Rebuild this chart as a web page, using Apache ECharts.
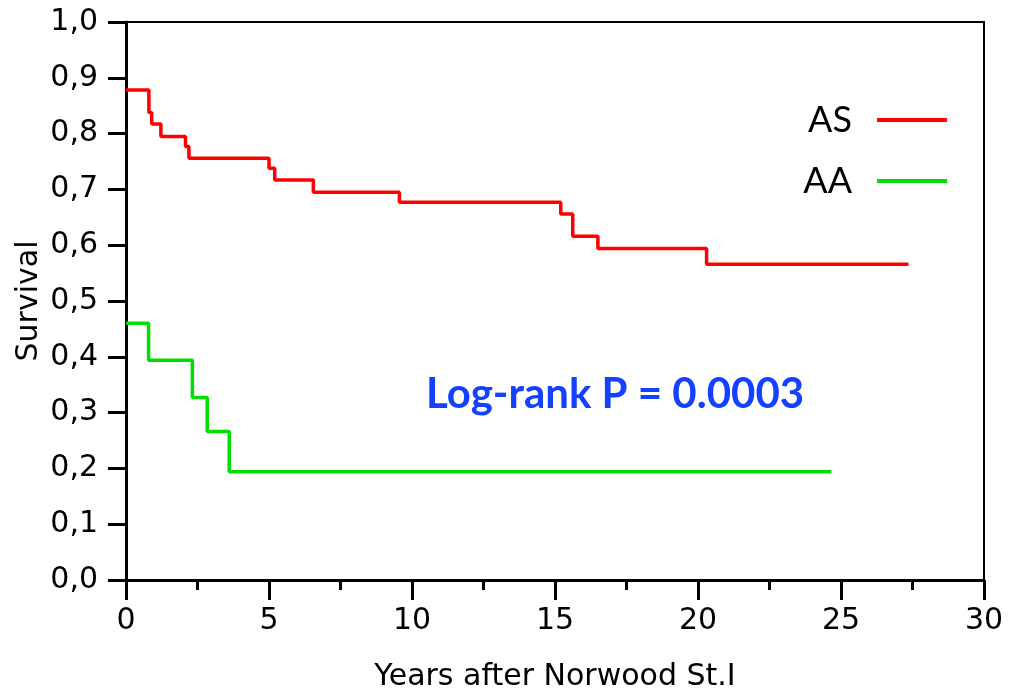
<!DOCTYPE html>
<html>
<head>
<meta charset="utf-8">
<script src="https://cdn.jsdelivr.net/npm/echarts@6/dist/echarts.min.js"></script>
<style>
  html, body { margin: 0; padding: 0; background: #fff; }
  #chart { width: 1009px; height: 690px; }
</style>
</head>
<body>
<div id="chart"></div>
<script>
// Kaplan-Meier steps: [years, survival]
const asSteps = [
  [0, 0.878], [0.80, 0.838], [0.90, 0.817], [1.22, 0.795], [2.08, 0.777],
  [2.20, 0.756], [5.00, 0.738], [5.20, 0.717], [6.55, 0.695], [9.56, 0.677],
  [15.20, 0.656], [15.62, 0.616], [16.50, 0.594], [20.30, 0.566], [27.36, 0.566]
];
const aaSteps = [
  [0, 0.460], [0.79, 0.394], [2.32, 0.327], [2.84, 0.266], [3.61, 0.194], [24.66, 0.194]
];
const seriesNames = ['AS', 'AA'];
const seriesColors = ['#ff0000', '#00dd00'];
const pValueText = 'Log-rank P = 0.0003';

const myChart = echarts.init(document.getElementById('chart'));

// pixel-ish wide sans for the axes
const axisFont = { fontFamily: 'DejaVu Sans', fontSize: 30, color: '#000' };
const axisLineStyle = { color: '#000', width: 3 };

let option = {
  animation: false,
  grid: {
    left: 126, right: 25, top: 22, bottom: 110,
    outerBoundsMode: 'none',
    show: true, borderColor: '#000', borderWidth: 2
  },
  legend: {
    orient: 'vertical',
    right: 57, top: 97,
    align: 'right',
    icon: 'rect',
    itemWidth: 70, itemHeight: 4,
    itemGap: 25,
    textStyle: { fontFamily: 'Lato', fontSize: 36, color: '#000', padding: [0, 20, 0, 0] },
    data: seriesNames
  },
  xAxis: {
    type: 'value',
    min: 0, max: 30, interval: 5,
    name: 'Years after Norwood St.I',
    nameLocation: 'middle',
    nameGap: 82,
    nameMoveOverlap: false,
    nameTextStyle: axisFont,
    axisLine: { lineStyle: axisLineStyle },
    axisTick: { inside: false, length: 20, lineStyle: axisLineStyle },
    minorTick: { show: true, splitNumber: 2, length: 10, lineStyle: axisLineStyle },
    axisLabel: Object.assign({ margin: 26 }, axisFont),
    splitLine: { show: false }
  },
  yAxis: {
    type: 'value',
    min: 0, max: 1, interval: 0.1,
    name: 'Survival',
    nameLocation: 'middle',
    nameGap: 82,
    nameMoveOverlap: false,
    nameTextStyle: axisFont,
    axisLine: { lineStyle: axisLineStyle },
    axisTick: { inside: false, length: 18, lineStyle: axisLineStyle },
    axisLabel: Object.assign({
      margin: 28,
      formatter: v => v.toFixed(1).replace('.', ',')
    }, axisFont),
    splitLine: { show: false }
  },
  graphic: [{
    type: 'text',
    left: 426, top: 373,
    style: {
      text: pValueText,
      fontFamily: 'Lato', fontWeight: 'bold', fontSize: 42,
      fill: '#1440ff'
    }
  }],
  series: [
    {
      name: seriesNames[0], type: 'line', step: 'end',
      data: asSteps, showSymbol: false,
      lineStyle: { color: seriesColors[0], width: 3.5 },
      itemStyle: { color: seriesColors[0] }
    },
    {
      name: seriesNames[1], type: 'line', step: 'end',
      data: aaSteps, showSymbol: false,
      lineStyle: { color: seriesColors[1], width: 3.5 },
      itemStyle: { color: seriesColors[1] }
    }
  ]
};

myChart.setOption(option);
</script>
</body>
</html>
